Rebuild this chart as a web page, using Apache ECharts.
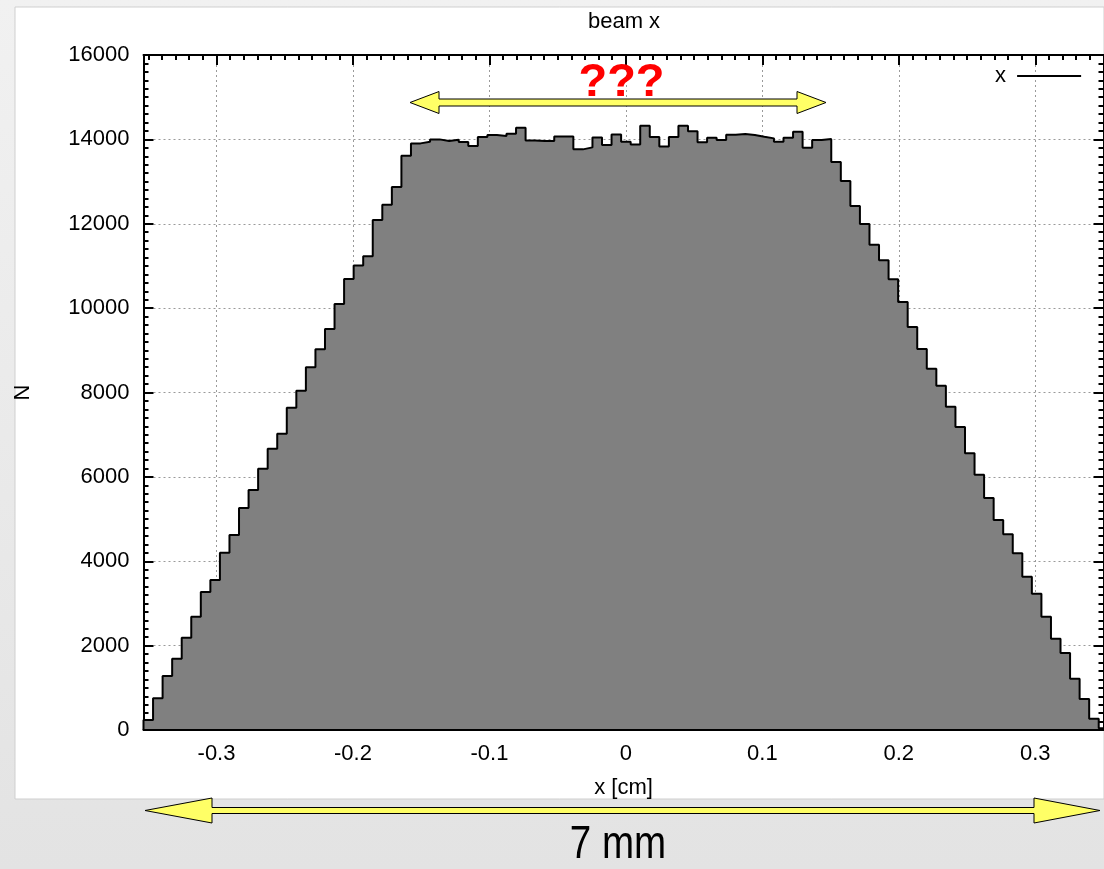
<!DOCTYPE html>
<html>
<head>
<meta charset="utf-8">
<script src="https://cdn.jsdelivr.net/npm/echarts@6/dist/echarts.min.js"></script>
<style>
html,body{margin:0;padding:0;background:#e8e8e8;}
#chart{width:1104px;height:869px;}
</style>
</head>
<body>
<div id="chart"></div>
<script>
// ---- data ----
const chartTitle = 'beam x';
const seriesName = 'x';
const xAxisTitle = 'x [cm]';
const yAxisTitle = 'N';
const xTickLabels = [-0.3, -0.2, -0.1, 0, 0.1, 0.2, 0.3];
const yTickLabels = [0, 2000, 4000, 6000, 8000, 10000, 12000, 14000, 16000];
const binLow = -0.3535;   // lower edge of first bin (cm)
const binWidth = 0.007;   // bin width (cm)
const xMin = -0.3535, xMax = 0.35;
const binCounts = [
  237, 751, 1280, 1690, 2188, 2686, 3271, 3555, 4202, 4622,
  5262, 5688, 6193, 6667, 7020, 7640, 8042, 8596, 9023, 9504,
  10096, 10689, 11013, 11227, 12087, 12450, 12870, 13611, 13905, 13945,
  14000, 13960, 13992, 13937, 13842, 14055, 14103, 14079, 14134, 14277,
  13976, 13960, 13960, 14071, 14071, 13763, 13810, 14047, 13866, 14118,
  13945, 13881, 14324, 14055, 13834, 14055, 14324, 14190, 13929, 14040,
  13984, 14111, 14126, 14103, 14063, 14024, 13945, 14040, 14182, 13803,
  13984, 14007, 13463, 13011, 12419, 11992, 11502, 11132, 10682, 10144,
  9551, 9030, 8563, 8160, 7663, 7181, 6560, 6050, 5500, 4977,
  4638, 4188, 3634, 3231, 2686, 2165, 1825, 1216, 735, 269,
  40
];
const annotationQ = '???';
const annotationWidth = '7 mm';

// ---- build histogram outline points from bins ----
const edge = k => +(binLow + k * binWidth).toFixed(5);
const histPts = [[edge(0), 0]];
binCounts.forEach((c, k) => histPts.push([edge(k), c]));
histPts.push([edge(binCounts.length), binCounts[binCounts.length - 1]]);
histPts.push([edge(binCounts.length), 0]);

const minorX = [];
for (let i = -35; i <= 35; i++) minorX.push(+(i / 100).toFixed(2));

const FONT = 'Liberation Sans, Arial, Helvetica, sans-serif';
const chart = echarts.init(document.getElementById('chart'), null, {renderer: 'canvas'});

function arrow(L, Lb, Rb, R, c, h, H) {
  return [[L, c], [Lb, c - H], [Lb, c - h], [Rb, c - h], [Rb, c - H], [R, c],
          [Rb, c + H], [Rb, c + h], [Lb, c + h], [Lb, c + H]];
}

const baseX = {
  type: 'value', min: xMin, max: xMax, scale: true,
  axisLabel: {show: false}, splitLine: {show: false},
  axisLine: {show: false, onZero: false}, axisTick: {show: false}
};
const baseY = {
  type: 'value', min: 0, max: 16000, interval: 2000,
  axisLabel: {show: false}, splitLine: {show: false},
  axisLine: {show: false, onZero: false}, axisTick: {show: false}
};
const tickStyle = {color: '#000', width: 2};

const option = {
  animation: false,
  textStyle: {fontFamily: FONT},
  title: {
    text: chartTitle, left: 624, top: 11, textAlign: 'center', padding: 0,
    textStyle: {fontFamily: FONT, fontSize: 22, fontWeight: 'normal', color: '#000'}
  },
  legend: {
    data: [seriesName], left: 990, top: 60, align: 'right', icon: 'rect',
    itemWidth: 64, itemHeight: 2, formatter: n => n + ' ',
    textStyle: {fontFamily: FONT, fontSize: 22, color: '#000'}
  },
  grid: {left: 143.5, right: 0.5, top: 55, bottom: 139, containLabel: false},
  xAxis: [
    Object.assign({}, baseX, {
      position: 'bottom',
      name: xAxisTitle, nameLocation: 'middle', nameGap: 47,
      nameTextStyle: {fontFamily: FONT, fontSize: 22, color: '#000'},
      axisLabel: {show: true, customValues: xTickLabels, margin: 13,
        fontFamily: FONT, fontSize: 22, color: '#000', formatter: v => String(v)},
      axisTick: {show: true, inside: true, length: 10, customValues: xTickLabels, lineStyle: tickStyle},
      splitLine: {show: true, lineStyle: {color: '#9a9a9a', type: [2, 3], width: 1}}
    }),
    Object.assign({}, baseX, {position: 'bottom',
      axisTick: {show: true, inside: true, length: 5, customValues: minorX, lineStyle: tickStyle}}),
    Object.assign({}, baseX, {position: 'top',
      axisLine: {show: true, onZero: false, lineStyle: {color: '#000', width: 2}},
      axisTick: {show: true, inside: true, length: 10, customValues: xTickLabels, lineStyle: tickStyle}}),
    Object.assign({}, baseX, {position: 'top',
      axisTick: {show: true, inside: true, length: 5, customValues: minorX, lineStyle: tickStyle}}),
    Object.assign({}, baseX, {position: 'bottom', z: 5,
      axisLine: {show: true, onZero: false, lineStyle: {color: '#000', width: 2}}})
  ],
  yAxis: [
    Object.assign({}, baseY, {
      position: 'left',
      name: yAxisTitle, nameLocation: 'middle', nameGap: 110, nameRotate: 90,
      nameTextStyle: {fontFamily: FONT, fontSize: 22, color: '#000'},
      axisLine: {show: true, onZero: false, lineStyle: {color: '#000', width: 2}},
      axisLabel: {show: true, margin: 14, fontFamily: FONT, fontSize: 22, color: '#000',
        customValues: yTickLabels, formatter: v => String(v)},
      axisTick: {show: true, inside: true, length: 10, lineStyle: tickStyle},
      minorTick: {show: true, splitNumber: 10, length: 5, lineStyle: tickStyle},
      splitLine: {show: true, lineStyle: {color: '#9a9a9a', type: [2, 3], width: 1}}
    }),
    Object.assign({}, baseY, {
      position: 'right',
      axisLine: {show: true, onZero: false, lineStyle: {color: '#000', width: 2}},
      axisTick: {show: true, inside: true, length: 10, lineStyle: tickStyle},
      minorTick: {show: true, splitNumber: 10, length: 5, lineStyle: tickStyle}
    })
  ],
  series: [{
    name: seriesName, type: 'line', step: 'end',
    xAxisIndex: 0, yAxisIndex: 0,
    data: histPts, showSymbol: false, symbol: 'none',
    color: '#000',
    lineStyle: {color: '#000', width: 2},
    areaStyle: {color: '#808080', opacity: 1},
    clip: true, z: 2
  }],
  graphic: [
    {type: 'rect', z: -100, silent: true, shape: {x: 0, y: 0, width: 1104, height: 869},
      style: {fill: new echarts.graphic.LinearGradient(0, 0, 0, 1, [
        {offset: 0, color: '#f1f1f1'}, {offset: 1, color: '#e3e3e3'}])}},
    {type: 'rect', z: -99, silent: true, shape: {x: 15, y: 7, width: 1089, height: 792},
      style: {fill: '#ffffff', stroke: '#cfcfcf', lineWidth: 1}},
    {type: 'text', z: 100, x: 621.5, y: 83, silent: true,
      style: {text: annotationQ, fill: '#ff0000', font: 'bold 47px ' + FONT,
        textAlign: 'center', textVerticalAlign: 'middle'}},
    {type: 'polygon', z: 101, silent: true,
      shape: {points: arrow(410, 439, 797, 826, 102.5, 3.5, 11)},
      style: {fill: '#ffff66', stroke: '#000', lineWidth: 1}},
    {type: 'polygon', z: 101, silent: true,
      shape: {points: arrow(145, 212, 1034, 1100, 810.5, 3, 12.5)},
      style: {fill: '#ffff66', stroke: '#000', lineWidth: 1}},
    {type: 'text', z: 100, x: 618, y: 845, scaleX: 0.82, silent: true,
      style: {text: annotationWidth, fill: '#000',
        font: '47px ' + FONT,
        textAlign: 'center', textVerticalAlign: 'middle'}}
  ]
};
chart.setOption(option);
</script>
</body>
</html>
